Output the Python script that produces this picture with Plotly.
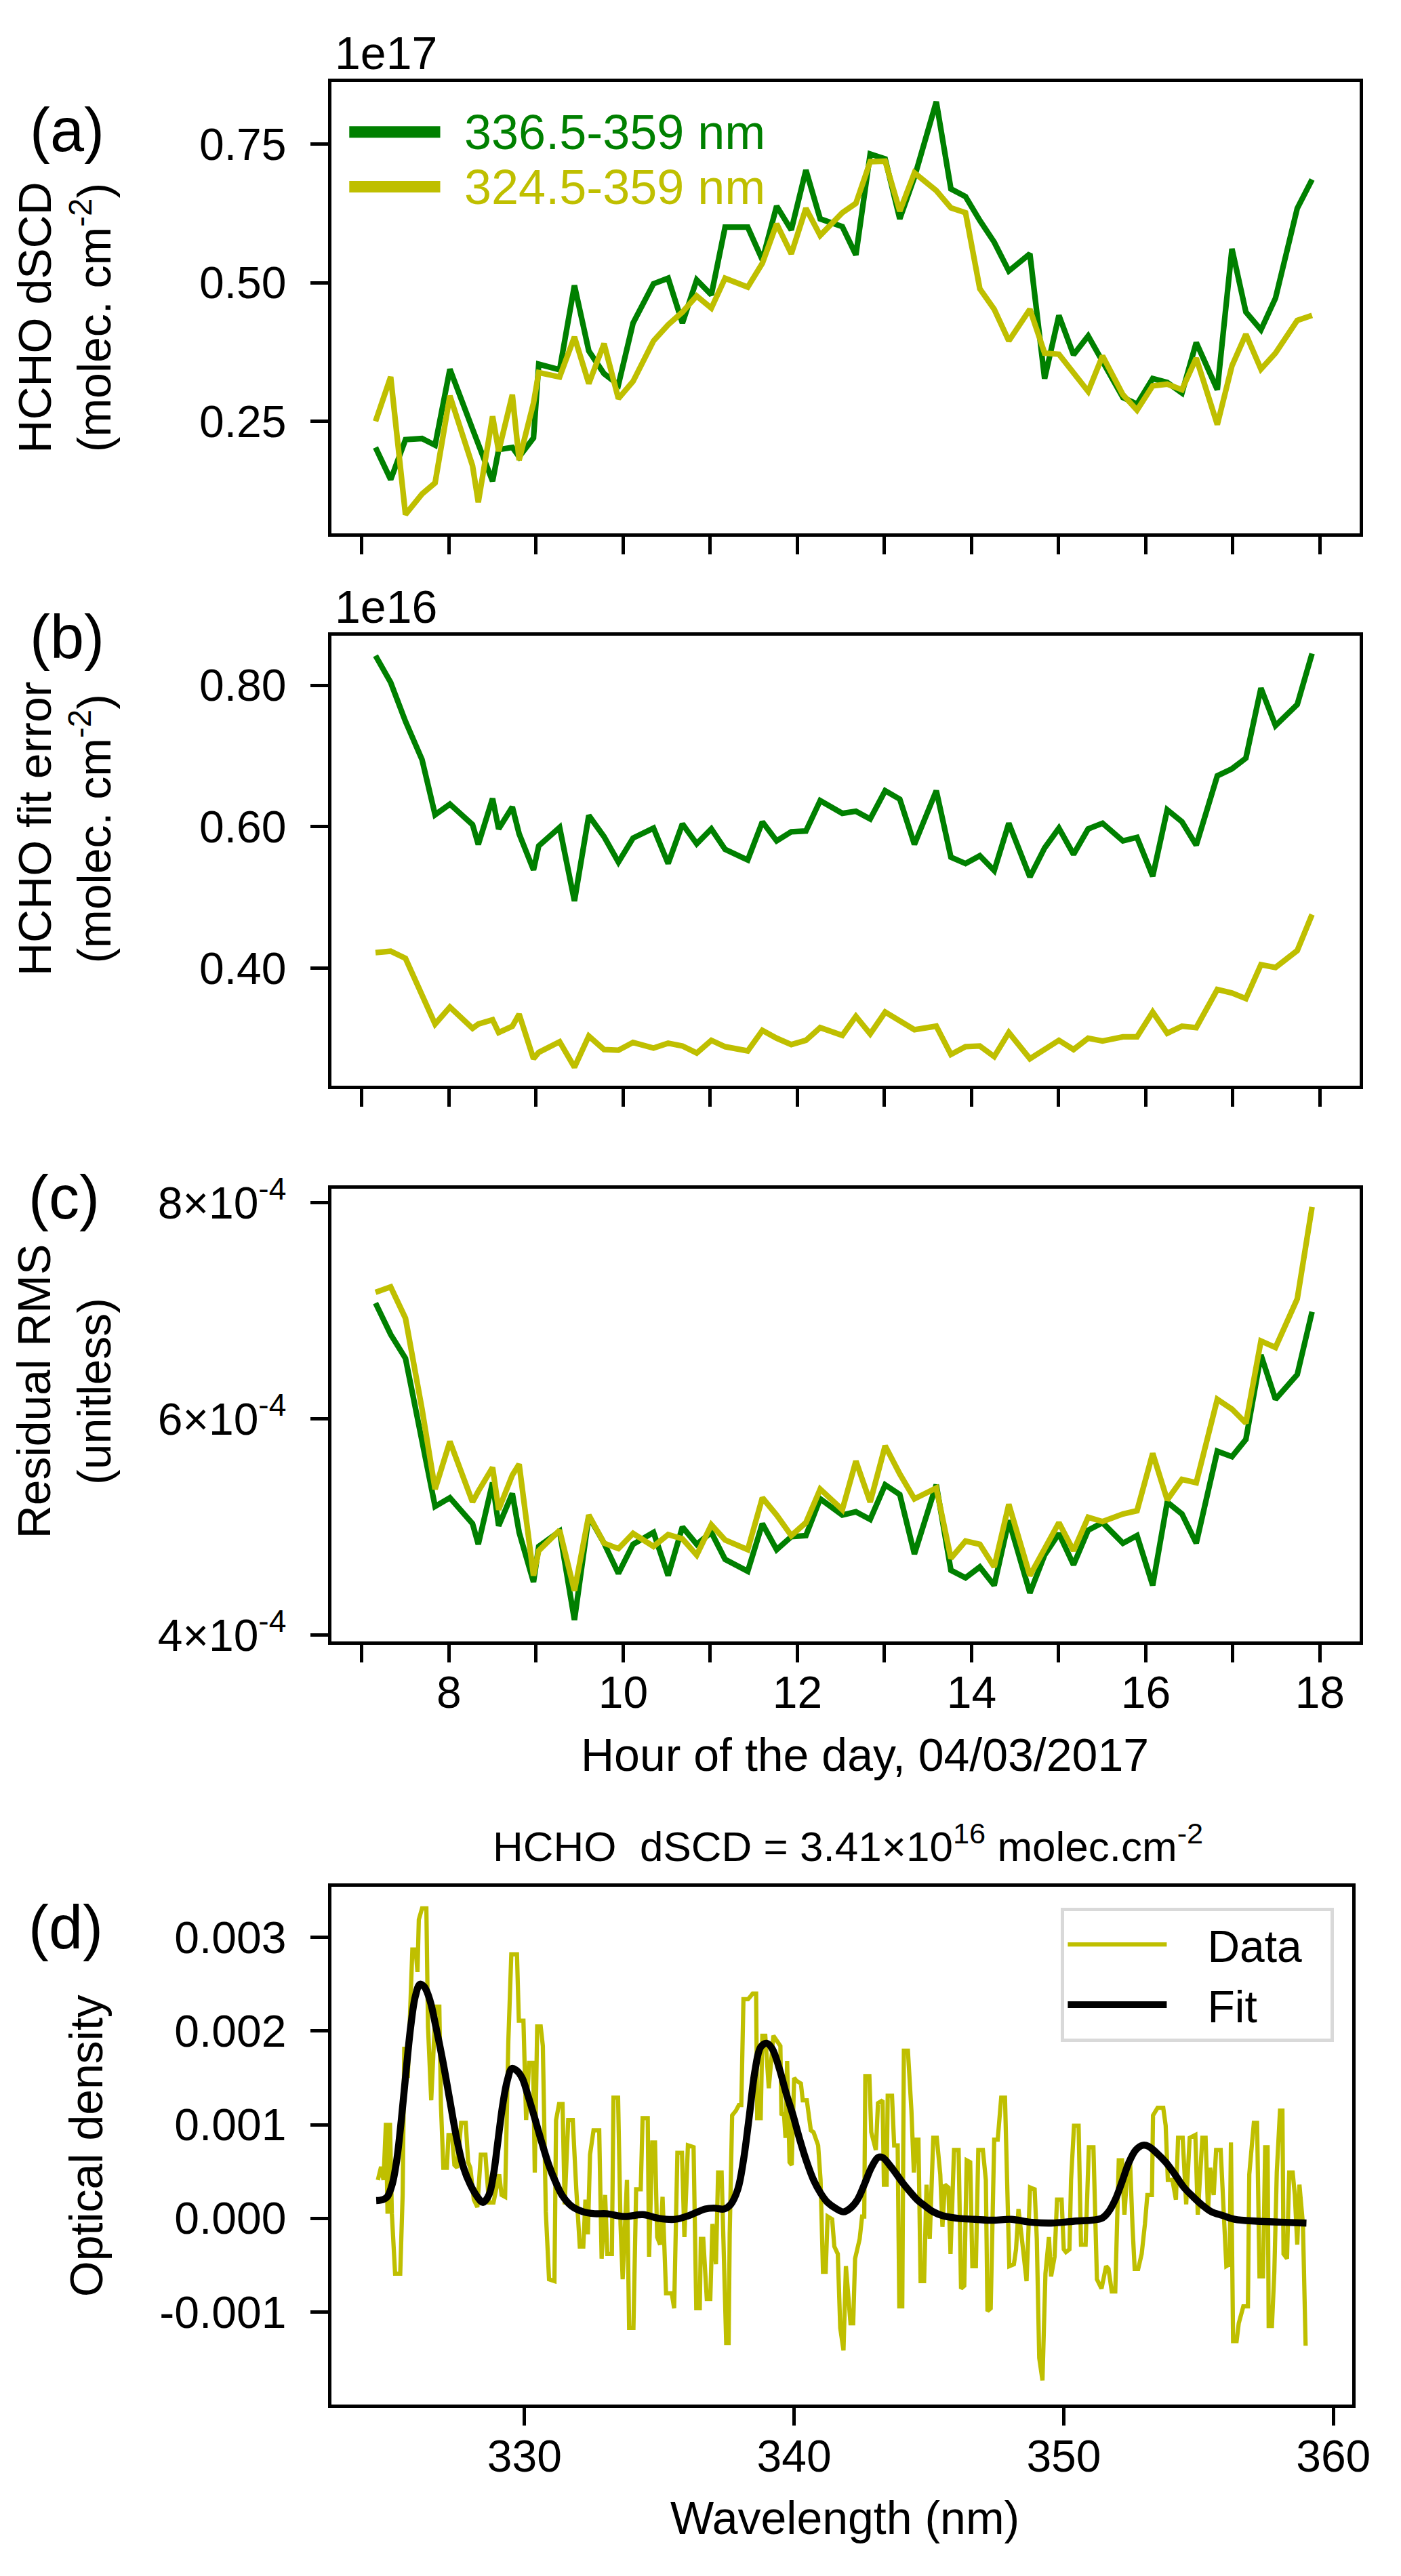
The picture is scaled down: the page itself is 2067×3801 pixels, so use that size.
import plotly.graph_objects as go

W, H = 2067, 3801
FONT = "Liberation Sans, Arial, sans-serif"
GREEN = "#008000"
YELLOW = "#bfbf00"

# time of each measurement (hour of the day)
hours = [7.156, 7.33, 7.50, 7.69, 7.84, 8.01, 8.27, 8.336, 8.50, 8.57,
         8.727, 8.805, 8.97, 9.03, 9.27, 9.44, 9.605, 9.78, 9.945, 10.113,
         10.348, 10.516, 10.68, 10.844, 11.012, 11.17, 11.43, 11.598, 11.762, 11.93,
         12.098, 12.262, 12.516, 12.672, 12.836, 13.008, 13.176, 13.344, 13.595, 13.763,
         13.931, 14.095, 14.26, 14.428, 14.67, 14.839, 15.003, 15.171, 15.339, 15.504,
         15.738, 15.90, 16.08, 16.247, 16.416, 16.58, 16.822, 16.99, 17.15, 17.323,
         17.49, 17.74, 17.91]

# (a) HCHO dSCD, units of 1e17 molec/cm2
dscd_336 = [0.203, 0.145, 0.217, 0.219, 0.207, 0.344, 0.236, 0.210, 0.142, 0.199,
            0.203, 0.186, 0.220, 0.353, 0.343, 0.495, 0.377, 0.336, 0.316, 0.427,
            0.498, 0.508, 0.427, 0.505, 0.478, 0.600, 0.600, 0.541, 0.638, 0.595,
            0.703, 0.615, 0.601, 0.550, 0.732, 0.723, 0.615, 0.690, 0.826, 0.669,
            0.655, 0.612, 0.573, 0.521, 0.552, 0.327, 0.441, 0.370, 0.404, 0.358,
            0.293, 0.281, 0.327, 0.320, 0.301, 0.392, 0.307, 0.561, 0.447, 0.415,
            0.472, 0.634, 0.686]
dscd_324 = [0.250, 0.330, 0.082, 0.119, 0.139, 0.296, 0.170, 0.104, 0.259, 0.196,
            0.298, 0.180, 0.283, 0.338, 0.330, 0.402, 0.318, 0.390, 0.291, 0.322,
            0.395, 0.424, 0.447, 0.476, 0.454, 0.508, 0.492, 0.535, 0.606, 0.552,
            0.634, 0.585, 0.626, 0.643, 0.718, 0.719, 0.629, 0.698, 0.666, 0.635,
            0.626, 0.489, 0.452, 0.395, 0.452, 0.373, 0.371, 0.336, 0.304, 0.368,
            0.298, 0.270, 0.314, 0.317, 0.307, 0.364, 0.244, 0.350, 0.407, 0.344,
            0.373, 0.432, 0.441]

# (b) HCHO fit error, units of 1e16 molec/cm2
err_336 = [0.842, 0.804, 0.749, 0.695, 0.617, 0.632, 0.603, 0.575, 0.640, 0.597,
           0.628, 0.590, 0.539, 0.573, 0.599, 0.495, 0.616, 0.586, 0.550, 0.584,
           0.598, 0.548, 0.604, 0.576, 0.597, 0.568, 0.553, 0.607, 0.580, 0.593,
           0.594, 0.637, 0.619, 0.622, 0.611, 0.651, 0.639, 0.575, 0.651, 0.557,
           0.548, 0.559, 0.538, 0.605, 0.529, 0.570, 0.598, 0.561, 0.597, 0.605,
           0.580, 0.585, 0.530, 0.624, 0.607, 0.574, 0.672, 0.682, 0.697, 0.796,
           0.743, 0.773, 0.845]
err_324 = [0.422, 0.424, 0.414, 0.361, 0.321, 0.345, 0.315, 0.321, 0.327, 0.309,
           0.318, 0.335, 0.272, 0.281, 0.296, 0.260, 0.304, 0.285, 0.284, 0.295,
           0.287, 0.294, 0.290, 0.280, 0.298, 0.289, 0.283, 0.312, 0.301, 0.292,
           0.298, 0.316, 0.305, 0.332, 0.307, 0.338, 0.325, 0.313, 0.318, 0.278,
           0.289, 0.290, 0.275, 0.309, 0.272, 0.285, 0.298, 0.285, 0.301, 0.297,
           0.303, 0.303, 0.338, 0.308, 0.318, 0.316, 0.370, 0.365, 0.357, 0.405,
           0.401, 0.425, 0.476]

# (c) residual RMS, units of 1e-4
rms_336 = [7.07, 6.78, 6.56, 5.80, 5.19, 5.27, 5.03, 4.84, 5.41, 5.01,
           5.31, 4.95, 4.49, 4.82, 4.96, 4.14, 5.10, 4.85, 4.57, 4.84,
           4.95, 4.55, 5.00, 4.84, 4.95, 4.70, 4.59, 5.03, 4.79, 4.91,
           4.92, 5.26, 5.11, 5.14, 5.07, 5.39, 5.30, 4.75, 5.39, 4.60,
           4.53, 4.63, 4.46, 5.06, 4.39, 4.74, 4.94, 4.65, 4.97, 5.04,
           4.85, 4.92, 4.46, 5.23, 5.12, 4.85, 5.70, 5.65, 5.81, 6.59,
           6.18, 6.41, 6.99]
rms_324 = [7.17, 7.22, 6.93, 6.09, 5.35, 5.79, 5.23, 5.33, 5.55, 5.16,
           5.48, 5.58, 4.55, 4.78, 4.97, 4.41, 5.11, 4.85, 4.80, 4.94,
           4.82, 4.93, 4.89, 4.74, 5.02, 4.88, 4.79, 5.27, 5.11, 4.92,
           5.04, 5.35, 5.16, 5.61, 5.23, 5.75, 5.49, 5.26, 5.36, 4.71,
           4.87, 4.84, 4.63, 5.21, 4.55, 4.79, 5.04, 4.78, 5.09, 5.05,
           5.12, 5.15, 5.68, 5.25, 5.44, 5.41, 6.18, 6.09, 5.96, 6.72,
           6.66, 7.11, 7.96]

# (d) measured optical density (units of 1e-3) vs wavelength (nm)
wl_data = [324.56, 324.68, 324.77, 324.86, 324.92, 325.01, 325.08, 325.20, 325.39, 325.48,
           325.54, 325.62, 325.67, 325.84, 325.96, 326.03, 326.08, 326.20, 326.36, 326.42,
           326.54, 326.70, 326.84, 326.90, 326.99, 327.12, 327.18, 327.31, 327.40, 327.50,
           327.65, 327.82, 327.91, 327.99, 328.12, 328.25, 328.38, 328.55, 328.68, 328.85,
           329.06, 329.15, 329.28, 329.40, 329.51, 329.72, 329.79, 329.96, 330.06, 330.17,
           330.32, 330.38, 330.47, 330.60, 330.68, 330.79, 330.91, 331.11, 331.17, 331.28,
           331.41, 331.49, 331.62, 331.79, 331.92, 332.05, 332.18, 332.26, 332.35, 332.43,
           332.56, 332.77, 332.86, 332.99, 333.07, 333.24, 333.30, 333.47, 333.56, 333.64,
           333.80, 333.88, 334.04, 334.14, 334.31, 334.38, 334.57, 334.62, 334.74, 334.84,
           334.92, 335.03, 335.12, 335.25, 335.46, 335.55, 335.67, 335.84, 335.93, 336.06,
           336.27, 336.37, 336.50, 336.54, 336.63, 336.76, 336.89, 336.97, 337.10, 337.18,
           337.31, 337.40, 337.48, 337.57, 337.61, 337.70, 337.84, 337.95, 338.04, 338.12,
           338.29, 338.38, 338.46, 338.59, 338.63, 338.76, 338.82, 338.93, 339.06, 339.23,
           339.49, 339.53, 339.62, 339.68, 339.74, 339.83, 339.91, 340.00, 340.08, 340.25,
           340.32, 340.47, 340.55, 340.62, 340.72, 340.89, 340.98, 341.07, 341.17, 341.24,
           341.41, 341.49, 341.62, 341.71, 341.83, 341.92, 342.09, 342.19, 342.26, 342.43,
           342.52, 342.60, 342.64, 342.79, 342.86, 343.03, 343.11, 343.28, 343.33, 343.43,
           343.47, 343.63, 343.71, 343.84, 343.90, 344.01, 344.07, 344.22, 344.35, 344.44,
           344.52, 344.61, 344.69, 344.82, 344.91, 345.03, 345.16, 345.29, 345.42, 345.50,
           345.59, 345.72, 345.80, 345.93, 346.10, 346.19, 346.31, 346.40, 346.53, 346.61,
           346.74, 346.83, 347.00, 347.11, 347.17, 347.29, 347.42, 347.55, 347.68, 347.82,
           347.98, 348.15, 348.23, 348.32, 348.49, 348.62, 348.75, 348.92, 349.00, 349.09,
           349.21, 349.32, 349.45, 349.53, 349.66, 349.75, 349.92, 350.00, 350.08, 350.21,
           350.27, 350.38, 350.55, 350.64, 350.81, 350.93, 351.10, 351.23, 351.40, 351.57,
           351.66, 351.78, 351.91, 352.04, 352.16, 352.25, 352.38, 352.46, 352.55, 352.63,
           352.76, 352.89, 353.01, 353.10, 353.27, 353.31, 353.48, 353.69, 353.78, 353.86,
           354.03, 354.16, 354.24, 354.41, 354.54, 354.67, 354.88, 354.97, 355.14, 355.26,
           355.35, 355.43, 355.56, 355.65, 355.82, 355.94, 356.03, 356.15, 356.20, 356.28,
           356.41, 356.49, 356.66, 356.83, 356.88, 357.05, 357.17, 357.26, 357.39, 357.47,
           357.56, 357.60, 357.72, 357.81, 357.90, 358.02, 358.11, 358.15, 358.28, 358.36,
           358.49, 358.57, 358.66, 358.74, 358.87, 358.97]
od_data = [0.41, 0.55, 0.41, 1.02, 0.05, 1.02, 0.05, -0.59, -0.59, 0.25,
           1.81, 1.81, 1.50, 2.87, 2.87, 2.63, 3.19, 3.31, 3.31, 2.05,
           1.26, 2.26, 2.26, 1.21, 0.54, 0.54, 0.89, 0.89, 0.57, 0.54,
           1.02, 1.02, 0.60, 0.54, 0.20, 0.12, 0.68, 0.68, 0.17, 0.17,
           0.47, 0.25, 0.23, 1.89, 2.82, 2.82, 2.11, 2.11, 1.05, 1.66,
           1.66, 0.49, 2.05, 2.05, 1.84, 0.07, -0.65, -0.67, 1.05, 1.22,
           1.22, 0.15, 1.05, 1.05, 0.31, -0.30, -0.30, 0.20, -0.17, 0.68,
           0.94, 0.94, -0.43, 0.25, -0.38, -0.38, 1.29, 1.29, -0.06, -0.65,
           0.41, -1.17, -1.17, 0.31, 0.31, 1.07, 1.07, -0.41, 0.81, 0.81,
           -0.20, -0.28, 0.23, -0.80, -0.80, -0.96, 0.70, 0.70, -0.20, 0.78,
           0.76, -0.96, -0.96, -0.22, -0.22, -0.86, -0.86, -0.06, -0.49, 0.49,
           0.49, -0.49, -1.33, -1.33, -0.17, 1.10, 1.15, 1.21, 1.21, 2.34,
           2.34, 2.37, 2.40, 2.40, 1.07, 1.07, 1.95, 1.95, 1.39, 1.95,
           1.84, 1.10, 1.13, 0.86, 1.68, 0.60, 0.57, 1.50, 1.47, 1.44,
           1.26, 1.26, 1.10, 0.94, 0.92, 0.78, 0.41, -0.57, -0.57, 0.02,
           -0.01, -0.30, -0.38, -1.17, -1.41, -0.51, -1.12, -1.12, -0.43, -0.22,
           0.02, 0.02, 1.52, 1.52, 0.92, 0.73, 1.23, 1.26, 0.36, 0.36,
           1.31, 1.31, 0.78, 0.78, -0.94, -0.94, 1.79, 1.79, 1.15, 0.49,
           0.84, 0.84, -0.67, -0.67, 0.36, -0.22, 0.86, 0.86, 0.47, -0.09,
           0.36, 0.33, -0.38, 0.73, 0.73, -0.75, -0.72, 0.62, 0.60, -0.51,
           -0.51, 0.73, 0.73, 0.41, -0.99, -0.96, 0.84, 0.84, 1.29, 1.29,
           -0.51, -0.49, -0.33, 0.10, -0.33, -0.67, 0.33, 0.31, -0.22, -1.49,
           -1.73, -0.59, -0.20, -0.62, -0.41, 0.20, 0.20, -0.33, -0.36, -0.33,
           0.41, 0.99, 0.99, -0.28, -0.28, 0.76, 0.76, -0.65, -0.75, -0.51,
           -0.54, -0.78, -0.78, 0.62, 0.62, 0.04, 0.60, 0.60, -0.09, -0.54,
           -0.54, -0.38, -0.06, 0.25, 0.25, 1.10, 1.18, 1.18, 0.99, 0.41,
           0.41, 0.20, 0.86, 0.86, 0.15, 0.86, 0.89, 0.04, 0.86, 0.86,
           0.07, 0.54, 0.25, 0.73, 0.73, -0.04, -0.51, -0.49, 0.81, -1.31,
           -1.31, -1.12, -0.94, -0.94, 0.47, 1.02, 1.02, -0.62, -0.62, 0.76,
           0.76, -1.15, -1.15, -0.57, 0.49, 1.15, 1.15, -0.38, -0.43, 0.49,
           0.49, 0.25, -0.28, 0.36, -0.06, -1.36]

# (d) fitted HCHO optical density (units of 1e-3)
wl_fit = [324.50, 324.75, 324.91, 325.09, 325.26, 325.43, 325.61, 325.78, 325.95, 326.12,
          326.29, 326.50, 326.71, 326.97, 327.23, 327.48, 327.74, 327.99, 328.25, 328.46,
          328.68, 328.85, 329.02, 329.19, 329.36, 329.53, 329.70, 329.91, 330.13, 330.38,
          330.64, 330.90, 331.15, 331.41, 331.75, 332.18, 332.60, 333.03, 333.71, 334.39,
          334.99, 335.59, 336.10, 336.70, 337.02, 337.40, 337.65, 337.91, 338.12, 338.34,
          338.55, 338.76, 338.98, 339.19, 339.45, 339.70, 339.96, 340.21, 340.47, 340.72,
          340.98, 341.24, 341.58, 341.83, 342.09, 342.35, 342.60, 342.86, 343.11, 343.28,
          343.54, 343.80, 344.05, 344.31, 344.56, 344.82, 345.16, 345.50, 346.10, 346.70,
          347.38, 348.06, 348.75, 349.53, 350.38, 351.40, 351.66, 351.91, 352.16, 352.42,
          352.67, 352.93, 353.14, 353.44, 353.78, 354.12, 354.46, 354.80, 355.14, 355.48,
          355.90, 356.33, 357.17, 358.02, 359.00]
od_fit = [0.19, 0.20, 0.23, 0.36, 0.62, 1.05, 1.58, 2.05, 2.37, 2.50,
          2.47, 2.32, 2.05, 1.68, 1.26, 0.86, 0.54, 0.36, 0.23, 0.17,
          0.25, 0.47, 0.84, 1.21, 1.47, 1.60, 1.58, 1.50, 1.31, 1.07,
          0.81, 0.57, 0.39, 0.24, 0.13, 0.07, 0.05, 0.05, 0.02, 0.04,
          0.00, -0.01, 0.03, 0.10, 0.11, 0.10, 0.15, 0.31, 0.62, 1.10,
          1.58, 1.83, 1.87, 1.81, 1.60, 1.34, 1.10, 0.84, 0.60, 0.41,
          0.27, 0.17, 0.10, 0.07, 0.11, 0.20, 0.36, 0.54, 0.65, 0.65,
          0.57, 0.47, 0.37, 0.28, 0.20, 0.14, 0.07, 0.03, 0.00, -0.01,
          -0.02, -0.01, -0.04, -0.05, -0.03, 0.00, 0.07, 0.20, 0.39, 0.60,
          0.73, 0.78, 0.77, 0.70, 0.60, 0.47, 0.33, 0.23, 0.14, 0.07,
          0.03, -0.01, -0.03, -0.04, -0.05]

assert len(wl_data) == len(od_data) and len(wl_fit) == len(od_fit)


def px(x):
    return x / W


def py(y):
    return 1 - y / H


fig = go.Figure()

# panels a-c: green = 336.5-359 nm window, yellow = 324.5-359 nm window
for ax, ay, g, yv in [("x", "y", dscd_336, dscd_324),
                      ("x2", "y2", err_336, err_324),
                      ("x3", "y3", [v * 1e-4 for v in rms_336], [v * 1e-4 for v in rms_324])]:
    fig.add_trace(go.Scatter(x=hours, y=g, mode="lines", line=dict(color=GREEN, width=8.3),
                             xaxis=ax, yaxis=ay, showlegend=False))
    fig.add_trace(go.Scatter(x=hours, y=yv, mode="lines", line=dict(color=YELLOW, width=8.3),
                             xaxis=ax, yaxis=ay, showlegend=False))

# panel d
fig.add_trace(go.Scatter(x=wl_data, y=[v * 1e-3 for v in od_data], mode="lines",
                         name="\u00a0\u00a0\u00a0Data\u00a0\u00a0",
                         line=dict(color=YELLOW, width=6.25), xaxis="x4", yaxis="y4"))
fig.add_trace(go.Scatter(x=wl_fit, y=[v * 1e-3 for v in od_fit], mode="lines",
                         name="\u00a0\u00a0\u00a0Fit",
                         line=dict(color="black", width=10.4, shape="spline"), xaxis="x4", yaxis="y4"))

axis_style = dict(showline=True, linecolor="black", linewidth=5, mirror=True,
                  ticks="outside", ticklen=26, tickwidth=5, tickcolor="black",
                  showgrid=False, zeroline=False,
                  tickfont=dict(size=66, family=FONT, color="black"))
xstyle = dict(axis_style, ticklabelstandoff=-12)
ystyle = dict(axis_style, ticklabelstandoff=22)

hour_ticks = list(range(7, 19))
hour_text = [str(h) if h % 2 == 0 else "" for h in hour_ticks]
xdom = [px(487), px(2024)]

fig.update_layout(
    width=W, height=H,
    margin=dict(l=0, r=0, t=0, b=0),
    paper_bgcolor="white", plot_bgcolor="white",
    font=dict(family=FONT, color="black"),
    xaxis=dict(xstyle, domain=xdom, anchor="y", range=[6.647, 18.453],
               tickvals=hour_ticks, showticklabels=False),
    yaxis=dict(ystyle, domain=[py(764), py(88)], anchor="x", range=[0.0476, 0.862],
               tickvals=[0.25, 0.5, 0.75], ticktext=["0.25", "0.50", "0.75"]),
    xaxis2=dict(xstyle, domain=xdom, anchor="y2", range=[6.647, 18.453],
                tickvals=hour_ticks, showticklabels=False),
    yaxis2=dict(ystyle, domain=[py(1590), py(917)], anchor="x2", range=[0.234, 0.870],
                tickvals=[0.4, 0.6, 0.8], ticktext=["0.40", "0.60", "0.80"]),
    xaxis3=dict(xstyle, domain=xdom, anchor="y3", range=[6.647, 18.453],
                tickvals=hour_ticks, ticktext=hour_text),
    yaxis3=dict(ystyle, domain=[py(2422), py(1744)], anchor="x3", range=[3.94e-4, 8.13e-4],
                tickvals=[4e-4, 6e-4, 8e-4],
                ticktext=["4×10<sup>-4</sup>", "6×10<sup>-4</sup>", "8×10<sup>-4</sup>"]),
    xaxis4=dict(xstyle, domain=[px(487), px(2013)], anchor="y4", range=[322.83, 360.69],
                tickvals=[330, 340, 350, 360]),
    yaxis4=dict(ystyle, domain=[py(3564), py(2789)], anchor="x4", range=[-1.99e-3, 3.54e-3],
                tickvals=[-0.001, 0.0, 0.001, 0.002, 0.003],
                ticktext=["-0.001", "0.000", "0.001", "0.002", "0.003"]),
    legend=dict(x=px(1578), y=py(2820), xanchor="left", yanchor="top",
                bgcolor="white", bordercolor="#d9d9d9", borderwidth=5,
                font=dict(size=66, family=FONT, color="black"), itemwidth=146,
                tracegroupgap=0),
)


def note(text, x, y, size, **kw):
    color = kw.pop("color", "black")
    kw.setdefault("xanchor", "center")
    kw.setdefault("yanchor", "middle")
    return dict(text=text, x=px(x), y=py(y), xref="paper", yref="paper", showarrow=False,
                font=dict(size=size, family=FONT, color=color), **kw)


annotations = [
    note("1e17", 490, 45, 68, xanchor="left"),
    note("1e16", 490, 873, 68, xanchor="left"),
    note("(a)", 92, 160, 90),
    note("(b)", 92, 919, 90),
    note("(c)", 88, 1758, 90),
    note("(d)", 90, 2850, 90),
    note("HCHO dSCD<br>(molec. cm<sup>-2</sup>)", 88, 440, 68, textangle=-90),
    note("HCHO fit error<br>(molec. cm<sup>-2</sup>)", 88, 1206, 68, textangle=-90),
    note("Residual RMS<br>(unitless)", 88, 2047, 68, textangle=-90),
    note("Optical density", 120, 3176, 68, textangle=-90),
    note("Hour of the day, 04/03/2017", 1285, 2591, 68),
    note("Wavelength (nm)", 1255, 3733, 68),
    note("HCHO  dSCD = 3.41×10<sup>16</sup> molec.cm<sup>-2</sup>", 1259, 2724, 62),
    note("336.5-359 nm", 684, 163, 72, xanchor="left", color=GREEN),
    note("324.5-359 nm", 684, 245, 72, xanchor="left", color=YELLOW),
]

# legend swatches for panel (a)
shapes = [
    dict(type="line", xref="paper", yref="paper", x0=px(514), x1=px(650), y0=py(163), y1=py(163),
         line=dict(color=GREEN, width=17)),
    dict(type="line", xref="paper", yref="paper", x0=px(514), x1=px(650), y0=py(245), y1=py(245),
         line=dict(color=YELLOW, width=17)),
]

fig.update_layout(annotations=annotations, shapes=shapes)

fig.write_html("out.html")
